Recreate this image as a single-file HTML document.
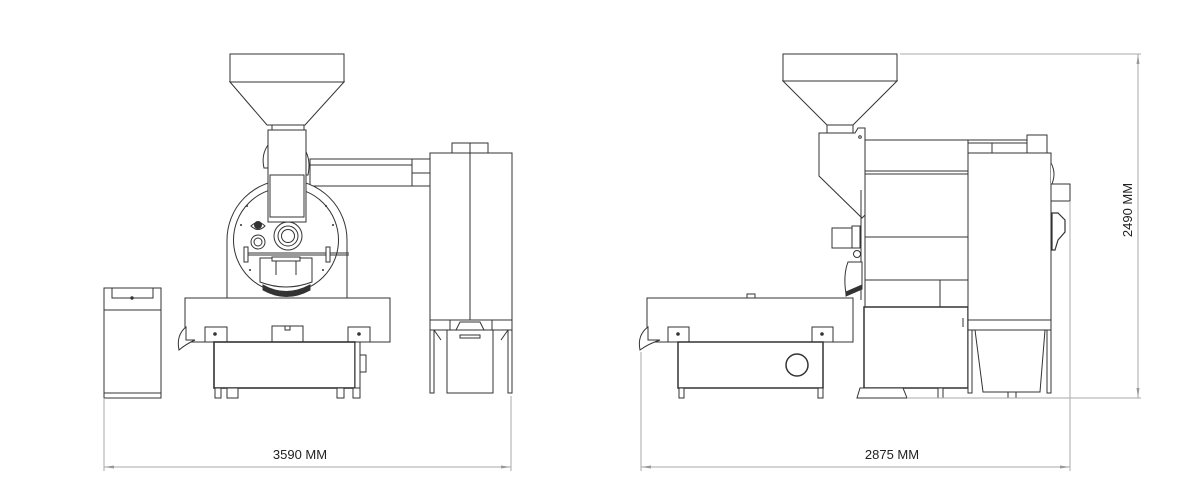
<!DOCTYPE html>
<html><head><meta charset="utf-8"><style>
html,body{margin:0;padding:0;background:#fff;}
svg{display:block;}
text{font-family:"Liberation Sans",sans-serif;fill:#222;}
</style></head><body>
<svg width="1200" height="504" viewBox="0 0 1200 504" xmlns="http://www.w3.org/2000/svg">
<g fill="#fff" stroke="#333" stroke-width="1">
<!-- ===== LEFT MACHINE ===== -->
<!-- control box -->
<rect x="104" y="288" width="57" height="110"/>
<rect x="112" y="288" width="41" height="10"/>
<line x1="104" y1="310" x2="161" y2="310"/>
<line x1="104" y1="393" x2="161" y2="393"/>
<circle cx="132" cy="298" r="1.2" fill="#333"/>
<!-- pipe -->
<rect x="310" y="159" width="102" height="27"/>
<line x1="310" y1="165" x2="412" y2="165"/>
<rect x="412" y="159" width="18" height="27"/>
<line x1="412" y1="173" x2="430" y2="173"/>
<!-- drum -->
<path d="M227,298 L227,240 A60,60 0 0 1 347,240 L347,298"/>
<circle cx="286" cy="240" r="52.5"/>
<!-- chute bulges -->
<path d="M268,145 Q261,155 264,168 L268,168Z"/>
<path d="M305,150 Q311,160 308,175 L305,175Z"/>
<!-- chute -->
<rect x="268" y="130" width="38" height="92"/>
<rect x="270" y="175" width="34" height="42"/>
<!-- hopper -->
<rect x="230" y="54" width="114" height="28"/>
<polygon points="230,82 344,82 305,125 267,125"/>
<rect x="272" y="125" width="32" height="5"/>
<!-- drum face details -->
<path d="M251,226 Q258,219 265,226 Q258,233 251,226Z"/>
<circle cx="258" cy="225" r="3.5" fill="#333"/>
<circle cx="258" cy="242" r="7"/>
<circle cx="258" cy="242" r="4"/>
<circle cx="288" cy="236" r="14"/>
<circle cx="288" cy="236" r="10"/>
<circle cx="288" cy="236" r="6.5"/>
<line x1="246" y1="253" x2="349" y2="253"/>
<line x1="246" y1="255" x2="349" y2="255"/>
<rect x="244" y="247" width="4" height="15"/>
<rect x="326" y="247" width="4" height="15"/>
<path d="M260,258 L312,258 L312,282 Q286,292 260,282Z"/>
<rect x="272" y="257" width="28" height="4"/>
<line x1="276" y1="261" x2="276" y2="275"/>
<line x1="296" y1="261" x2="296" y2="275"/>
<path d="M263,285 Q286,298 310,285 L310,290 Q286,303 263,290Z" fill="#333"/>
<g fill="#333" stroke="none">
<circle cx="247" cy="206" r="1"/><circle cx="326" cy="206" r="1"/>
<circle cx="241" cy="225" r="1"/><circle cx="333" cy="225" r="1"/>
<circle cx="250" cy="270" r="1"/><circle cx="323" cy="270" r="1"/>
</g>
<!-- cooling tray -->
<rect x="185" y="298" width="205" height="44"/>
<path d="M186,327 Q176,335 179,350 Q186,344 195,340 L186,340Z"/>
<rect x="205" y="327" width="22" height="15"/>
<rect x="348" y="327" width="22" height="15"/>
<circle cx="215" cy="334" r="1.3" fill="#333"/>
<circle cx="359" cy="334" r="1.3" fill="#333"/>
<rect x="272" y="326" width="31" height="24"/>
<rect x="285" y="326" width="5" height="4"/>
<!-- base -->
<rect x="214" y="342" width="141" height="46" stroke-width="1.6"/>
<rect x="355" y="342" width="5" height="46"/>
<rect x="360" y="355" width="6" height="17"/>
<rect x="215" y="388" width="6" height="10"/>
<rect x="227" y="388" width="11" height="10"/>
<rect x="337" y="388" width="7" height="10"/>
<rect x="353" y="388" width="7" height="10"/>
<!-- cyclone -->
<rect x="452" y="143" width="36" height="10"/>
<rect x="430" y="153" width="82" height="167"/>
<line x1="470" y1="143" x2="470" y2="320"/>
<rect x="430" y="320" width="20" height="10"/>
<rect x="492" y="320" width="20" height="10"/>
<polygon points="460,322 480,322 484,330 456,330"/>
<line x1="450" y1="320" x2="492" y2="320"/>
<rect x="430" y="330" width="4" height="63"/>
<rect x="508" y="330" width="4" height="63"/>
<line x1="434" y1="330" x2="441" y2="340"/>
<line x1="508" y1="330" x2="501" y2="340"/>
<rect x="447" y="330" width="46" height="63"/>
<rect x="460" y="335" width="20" height="3"/>

<!-- ===== RIGHT MACHINE ===== -->
<!-- body -->
<line x1="865" y1="140" x2="1047" y2="140"/>
<line x1="865" y1="143" x2="1027" y2="143"/>
<rect x="865" y="140" width="103" height="167"/>
<line x1="865" y1="171" x2="968" y2="171"/>
<line x1="865" y1="174" x2="968" y2="174"/>
<line x1="865" y1="237" x2="968" y2="237"/>
<line x1="865" y1="280" x2="968" y2="280"/>
<line x1="940" y1="280" x2="940" y2="307"/>
<rect x="864" y="307" width="104" height="81" stroke-width="1.5"/>
<path d="M860,388 L903,388 L907,398 L857,398Z"/>
<rect x="938" y="388" width="5" height="10"/>
<!-- chute -->
<polygon points="819,133 855,133 858,128 865,128 865,215 862,218 819,176"/>
<circle cx="860" cy="137" r="1.3"/>
<line x1="861" y1="190" x2="861" y2="300"/>
<!-- motor -->
<rect x="832" y="228" width="20" height="20"/>
<rect x="852" y="226" width="8" height="22"/>
<circle cx="857" cy="254" r="3.5"/>
<path d="M848,262 Q843,275 846,294 L862,287 L862,262Z"/>
<path d="M846,292 L862,285 L862,289 L846,296Z" fill="#333"/>
<!-- cyclone -->
<rect x="992" y="143" width="35" height="10"/>
<rect x="1027" y="135" width="20" height="18"/>
<rect x="968" y="153" width="83" height="167"/>
<path d="M1051,163 Q1057,174 1051,186"/>
<rect x="1051" y="184" width="19" height="17"/>
<path d="M1052,213 L1058,213 L1065,220 L1065,232 L1058,240 L1055,250 L1052,250Z" stroke-width="1.2"/>
<rect x="968" y="320" width="83" height="10"/>
<line x1="963" y1="318" x2="963" y2="327"/>
<rect x="968" y="330" width="4" height="63"/>
<rect x="1047" y="330" width="4" height="63"/>
<polygon points="975,330 1045,330 1040,392 983,392"/>
<rect x="1008" y="392" width="8" height="6"/>
<!-- cooling tray -->
<rect x="647" y="298" width="206" height="44"/>
<rect x="747" y="294" width="8" height="4"/>
<path d="M648,327 Q637,335 640,350 Q648,344 660,340 L648,340Z"/>
<rect x="668" y="327" width="21" height="15"/>
<rect x="812" y="327" width="21" height="15"/>
<circle cx="678" cy="334" r="1.3" fill="#333"/>
<circle cx="822" cy="334" r="1.3" fill="#333"/>
<rect x="678" y="342" width="145" height="46" stroke-width="1.5"/>
<circle cx="797" cy="365" r="11" stroke-width="1.5"/>
<rect x="679" y="388" width="5" height="10"/>
<rect x="818" y="388" width="5" height="10"/>
</g>
<!-- right hopper (on top) -->
<g fill="#fff" stroke="#333" stroke-width="1">
<rect x="783" y="54" width="114" height="27"/>
<polygon points="783,81 897,81 853,125 827,125"/>
<rect x="827" y="125" width="26" height="8"/>
</g>

<!-- ===== DIMENSIONS ===== -->
<g stroke="#aaa" stroke-width="1" fill="none">
<line x1="104" y1="398" x2="104" y2="471"/>
<line x1="511" y1="396" x2="511" y2="471"/>
<line x1="104" y1="467" x2="511" y2="467"/>
<line x1="641" y1="352" x2="641" y2="471"/>
<line x1="1070" y1="201" x2="1070" y2="471"/>
<line x1="641" y1="467" x2="1070" y2="467"/>
<line x1="900" y1="54" x2="1141" y2="54"/>
<line x1="907" y1="398" x2="1141" y2="398"/>
<line x1="1138" y1="54" x2="1138" y2="398"/>
</g>
<g fill="#999">
<polygon points="104,467 114,465.5 114,468.5"/>
<polygon points="511,467 501,465.5 501,468.5"/>
<polygon points="641,467 651,465.5 651,468.5"/>
<polygon points="1070,467 1060,465.5 1060,468.5"/>
<polygon points="1138,54 1136.5,64 1139.5,64"/>
<polygon points="1138,398 1136.5,388 1139.5,388"/>
</g>
<text x="300" y="459" font-size="13" text-anchor="middle">3590 MM</text>
<text x="892" y="459" font-size="13" text-anchor="middle">2875 MM</text>
<text x="1132" y="210" font-size="13" text-anchor="middle" transform="rotate(-90 1132 210)">2490 MM</text>
</svg>
</body></html>
